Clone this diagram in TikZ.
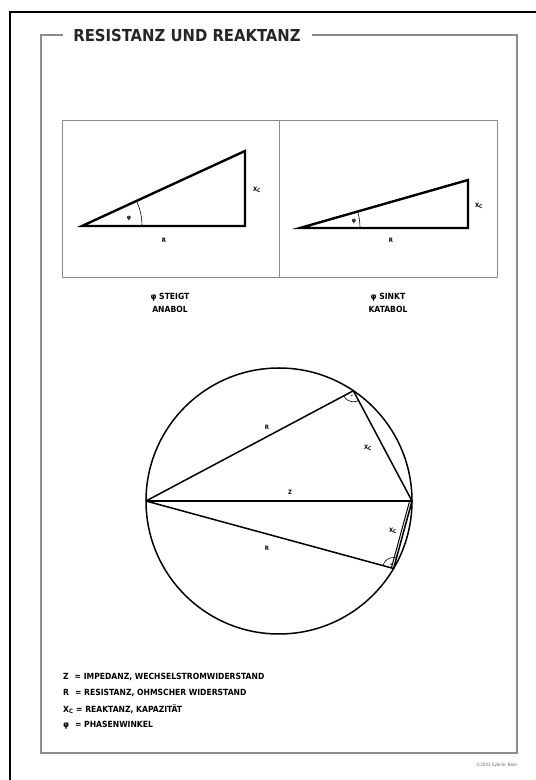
\documentclass[tikz,border=0pt]{standalone}
\usepackage{fontspec}
\setmainfont{DejaVu Sans Condensed}[BoldFont={DejaVu Sans Condensed Bold}]
\usetikzlibrary{calc}
\tikzset{
  rahmen/.style={draw=black!45, line width=1.8pt},
  feld/.style={draw=black!45, line width=0.9pt},
  dreieck/.style={line width=2.4pt, line join=miter},
  kreislinie/.style={line width=1.5pt},
  marke/.style={font=\bfseries\fontsize{6}{7}\selectfont, inner sep=1pt},
  schrift/.style={font=\bfseries\fontsize{8.5}{10}\selectfont, inner sep=0pt},
}
\begin{document}
\begin{tikzpicture}[x=1pt,y=1pt]
    \useasboundingbox (0,0) rectangle (536,780);
    % Blattrand
    \draw[line width=1.2pt] (10,0) -- (10,768) -- (536,768);
    % Rahmen mit Titel
    \node[font=\bfseries\fontsize{16.5}{18}\selectfont, text=black!85, inner sep=0pt] (titel) at (187,745) {RESISTANZ UND REAKTANZ};
    \draw[rahmen] (63,745) -- (41,745) -- (41,27) -- (517,27) -- (517,745) -- (312,745);

    % Dreiecke oben
    \draw[feld] (62,503) rectangle (497,660);
    \draw[feld] (279,503) -- (279,660);
    \begin{scope}
        \coordinate (a1) at (82,554);
        \coordinate (b1) at (245,554);
        \coordinate (c1) at (245,629);
        \draw[dreieck] (a1) -- (b1) -- (c1) -- cycle;
        \draw[line width=0.6pt] ($(a1)+(0:60)$) arc (0:24.7:60);
        \node[marke] (phi1) at (129,562) {φ};
        \node[marke] (r1) at (164,540) {R};
        \node[marke] (x1) at (257,590) {X\textsubscript{C}};
    \end{scope}
    \begin{scope}
        \coordinate (a2) at (300,552);
        \coordinate (b2) at (468,552);
        \coordinate (c2) at (468,600);
        \draw[dreieck] (a2) -- (b2) -- (c2) -- cycle;
        \draw[line width=0.6pt] ($(a2)+(0:60)$) arc (0:16:60);
        \node[marke] (phi2) at (354,559) {φ};
        \node[marke] (r2) at (391,540) {R};
        \node[marke] (x2) at (479,574) {X\textsubscript{C}};
    \end{scope}
    \node[schrift, align=center] (steigt) at (170,477) {φ STEIGT\\[3pt]ANABOL};
    \node[schrift, align=center] (sinkt) at (388,477) {φ SINKT\\[3pt]KATABOL};

    % Thaleskreis
    \coordinate (o) at (279,279);
    \draw[kreislinie] (o) circle (133);
    \coordinate (a) at ($(o)+(180:133)$);
    \coordinate (b) at ($(o)+(0:133)$);
    \coordinate (p) at ($(o)+(56:133)$);
    \coordinate (q) at ($(o)+(-30.5:133)$);
    \draw[line width=2pt] (a) -- (b);
    \draw[kreislinie] (a) -- (p) -- (b);
    \draw[kreislinie] (a) -- (q) -- (b);
    \draw[line width=1pt] ($(q)+(-2.2,0.6)$) -- ($(b)+(-2.2,0.6)$);
    % rechte Winkel
    \draw[line width=0.6pt] ($(p)+(207.6:11)$) arc (207.6:299:11);
    \fill ($(p)+(253:5)$) circle (0.8);
    \draw[line width=0.6pt] ($(q)+(74.2:11)$) arc (74.2:164.9:11);
    \fill ($(q)+(119:5)$) circle (0.8);
    \node[marke] (r3) at (267,353) {R};
    \node[marke] (x3) at (368,332) {X\textsubscript{C}};
    \node[marke] (z) at (290,288) {Z};
    \node[marke] (x4) at (393,249) {X\textsubscript{C}};
    \node[marke] (r4) at (267,232) {R};

    % Legende
    \node[schrift, anchor=west] (lz) at (63,103) {Z\hspace{6pt}= IMPEDANZ, WECHSELSTROMWIDERSTAND};
    \node[schrift, anchor=west] (lr) at (63,87) {R\hspace{6pt}= RESISTANZ, OHMSCHER WIDERSTAND};
    \node[schrift, anchor=west] (lx) at (63,71) {X\textsubscript{C} = REAKTANZ, KAPAZITÄT};
    \node[schrift, anchor=west] (lp) at (63,55) {φ\hspace{6pt}= PHASENWINKEL};
    \node[font=\fontsize{4.5}{5}\selectfont, text=black!60, anchor=east, inner sep=0pt] (copy) at (517,15) {©2003 Sybille, Bale};
\end{tikzpicture}
\end{document}
